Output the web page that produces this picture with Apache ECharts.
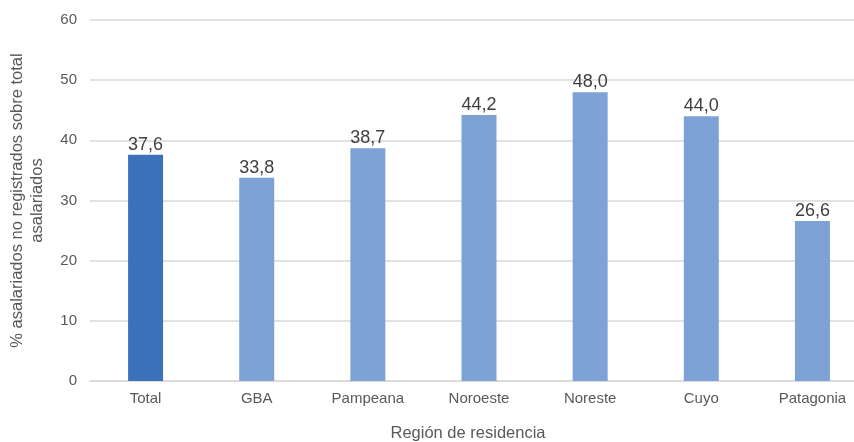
<!DOCTYPE html>
<html><head><meta charset="utf-8">
<script src="https://cdn.jsdelivr.net/npm/echarts@6/dist/echarts.min.js"></script>
<style>html,body{margin:0;padding:0;background:#fff;overflow:hidden}#w{width:854px;height:442px;overflow:hidden;position:relative}#c{width:868px;height:442px;position:absolute;left:0;top:0}</style>
</head><body><div id="w"><div id="c"></div></div>
<script>
var categories = ["Total","GBA","Pampeana","Noroeste","Noreste","Cuyo","Patagonia"];
var values = [37.6,33.8,38.7,44.2,48.0,44.0,26.6];
var colors = ["#3c72bb","#7fa2d6"];
var chart = echarts.init(document.getElementById('c'));
var F = '"Liberation Sans", Arial, sans-serif';
chart.setOption({
  animation:false,
  grid:{left:90,right:0,top:20,bottom:61,containLabel:false,outerBoundsMode:'none'},
  xAxis:{type:'category',data:categories,
    name:'Región de residencia',nameLocation:'middle',nameGap:44,
    nameTextStyle:{fontFamily:F,fontSize:16.5,color:'#595959',padding:[0,22,0,0]},
    axisLine:{lineStyle:{color:'#d9d9d9',width:1.5}},axisTick:{show:false},
    axisLabel:{fontFamily:F,fontSize:15,color:'#595959',margin:10}},
  yAxis:{type:'value',min:0,max:60,interval:10,
    name:'% asalariados no registrados sobre total\nasalariados',nameLocation:'middle',nameGap:43,
    nameTextStyle:{fontFamily:F,fontSize:16.5,color:'#595959',lineHeight:20},
    axisLine:{show:false},axisTick:{show:false},
    splitLine:{lineStyle:{color:'#d9d9d9',width:1.5}},
    axisLabel:{fontFamily:F,fontSize:15,color:'#595959',margin:13}},
  series:[{type:'bar',barWidth:35,
    data:values.map(function(v,i){return {value:v,itemStyle:{color:i===0?colors[0]:colors[1]}};}),
    label:{show:true,position:'top',distance:1,fontFamily:F,fontSize:18,color:'#404040',
      formatter:function(p){return p.value.toFixed(1).replace('.',',');}}}]
});
</script></body></html>
